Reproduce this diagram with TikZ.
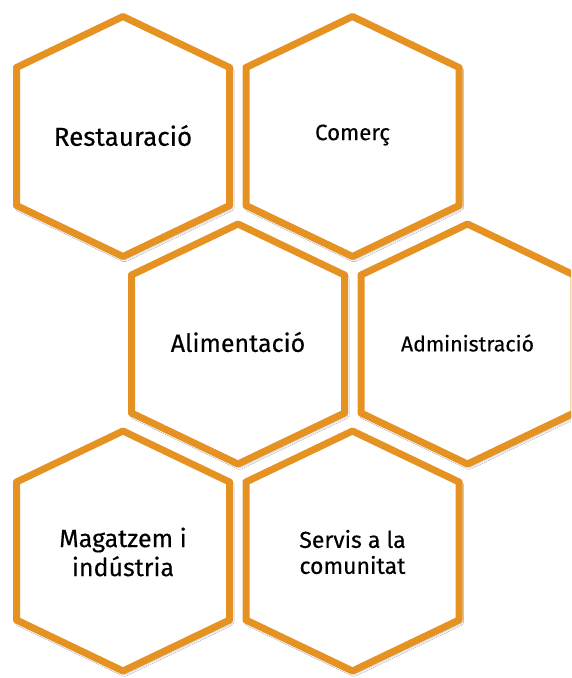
\documentclass[tikz,border=0pt]{standalone}
\usepackage{fontspec}
\setmainfont{Fira Sans}
\newfontfamily\hexfont{Fira Sans}[FakeBold=0.3]
\usetikzlibrary{shadows.blur}
\definecolor{hexorange}{RGB}{230,146,34}
\newcommand\hexpath[1]{([shift={(0,-120)}]#1) -- ([shift={(106.5,-69)}]#1) -- ([shift={(106.5,69)}]#1) -- ([shift={(0,120)}]#1) -- ([shift={(-106.5,69)}]#1) -- ([shift={(-106.5,-69)}]#1) -- cycle}
\tikzset{
  hexa/.style={draw=hexorange, line width=7pt, line join=round, fill=white,
    blur shadow={shadow xshift=1.5pt, shadow yshift=-2.5pt, shadow blur steps=6, shadow opacity=45, shadow blur radius=3pt}},
  lbl/.style={inner sep=0pt, align=center, text=black}
}
\begin{document}
\begin{tikzpicture}[x=1pt,y=-1pt]
\useasboundingbox (0,0) rectangle (571,678);
\clip (0,0) rectangle (571,678);
\fill[white] (0,0) rectangle (571,678);
\coordinate (c1) at (123,136.5);
\coordinate (c2) at (352.5,136.5);
\coordinate (c3) at (238,344);
\coordinate (c4) at (467.5,344);
\coordinate (c5) at (123,551);
\coordinate (c6) at (352.5,551);
\path[hexa] \hexpath{c1};
\path[hexa] \hexpath{c2};
\path[hexa] \hexpath{c3};
\path[hexa] \hexpath{c4};
\path[hexa] \hexpath{c5};
\path[hexa] \hexpath{c6};
\node[lbl, font=\hexfont\fontsize{26}{30}\selectfont] (t1) at ([yshift=1pt]c1) {Restauració};
\node[lbl, font=\hexfont\fontsize{22.3}{26}\selectfont] (t2) at ([yshift=1.5pt]c2) {Comerç};
\node[lbl, font=\hexfont\fontsize{25}{29}\selectfont] (t3) at ([yshift=2pt]c3) {Alimentació};
\node[lbl, font=\hexfont\fontsize{21.3}{25}\selectfont] (t4) at ([yshift=1pt]c4) {Administració};
\node[lbl, font=\hexfont\fontsize{25}{29}\selectfont] (t5) at ([yshift=-1pt]c5) {Magatzem i\\indústria};
\node[lbl, font=\hexfont\fontsize{23}{26}\selectfont] (t6) at ([yshift=-1pt]c6) {Servis a la\\comunitat};
\end{tikzpicture}
\end{document}
